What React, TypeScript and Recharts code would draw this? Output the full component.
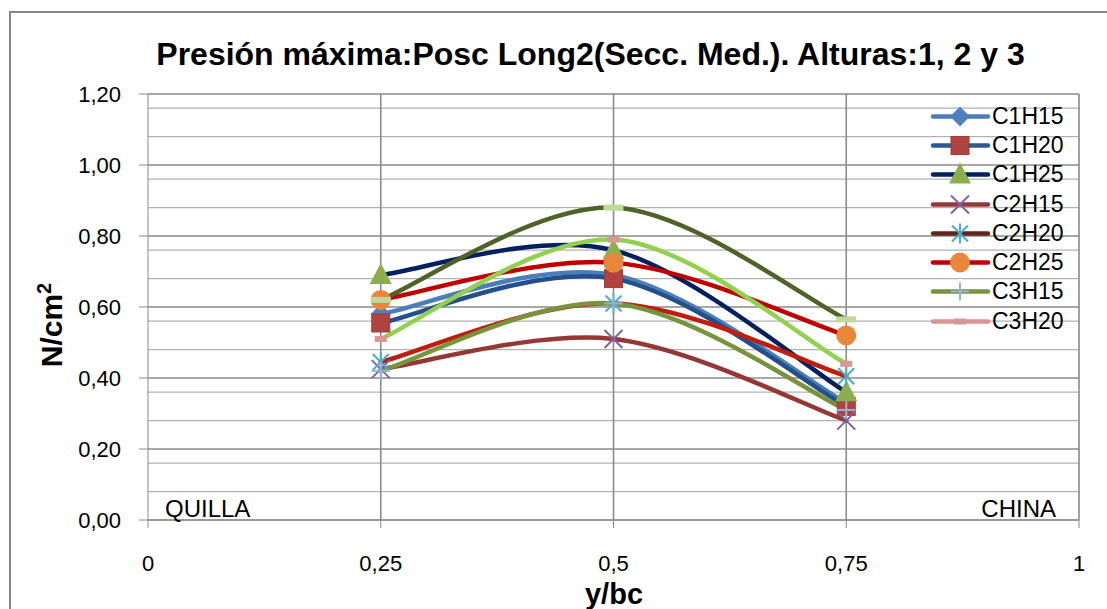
import React from 'react';
import { LineChart, Line, XAxis, YAxis, CartesianGrid, Legend, ReferenceDot } from 'recharts';

// y/bc positions where pressure was measured
const positions = [0.25, 0.5, 0.75];

// maximum pressure (N/cm2) per series
const c1h15 = [0.58, 0.69, 0.33];
const c1h20 = [0.555, 0.68, 0.32];
const c1h25 = [0.69, 0.76, 0.36];
const c2h15 = [0.425, 0.51, 0.28];
const c2h20 = [0.445, 0.61, 0.405];
const c2h25 = [0.62, 0.725, 0.52];
const c3h15 = [0.42, 0.61, 0.31];
const c3h20 = [0.51, 0.79, 0.44];
const c3h25 = [0.62, 0.88, 0.565];

const xTicks = [0, 0.25, 0.5, 0.75, 1];
const yTicks = [0, 0.2, 0.4, 0.6, 0.8, 1.0, 1.2];
const yMinor = [
  0.04, 0.08, 0.12, 0.16, 0.24, 0.28, 0.32, 0.36, 0.44, 0.48, 0.52, 0.56,
  0.64, 0.68, 0.72, 0.76, 0.84, 0.88, 0.92, 0.96, 1.04, 1.08, 1.12, 1.16,
];

const title = 'Presión máxima:Posc Long2(Secc. Med.). Alturas:1, 2 y 3';

type Shape = 'diamond' | 'square' | 'triangle' | 'x' | 'star' | 'circle' | 'plus' | 'dash' | 'wideDash';

interface SeriesDef {
  key: string;
  name: string;
  values: number[];
  stroke: string;
  legendStroke: string;
  shape: Shape;
  markerColor: string;
  inLegend: boolean;
}

const series: SeriesDef[] = [
  { key: 'c1h15', name: 'C1H15', values: c1h15, stroke: '#4A7EBB', legendStroke: '#4A7EBB', shape: 'diamond', markerColor: '#4F81BD', inLegend: true },
  { key: 'c1h20', name: 'C1H20', values: c1h20, stroke: '#254F8A', legendStroke: '#2A5A96', shape: 'square', markerColor: '#B0433F', inLegend: true },
  { key: 'c1h25', name: 'C1H25', values: c1h25, stroke: '#002060', legendStroke: '#002060', shape: 'triangle', markerColor: '#8EAE4E', inLegend: true },
  { key: 'c2h15', name: 'C2H15', values: c2h15, stroke: '#953735', legendStroke: '#953735', shape: 'x', markerColor: '#7B62A0', inLegend: true },
  { key: 'c2h20', name: 'C2H20', values: c2h20, stroke: '#BF1E0E', legendStroke: '#632523', shape: 'star', markerColor: '#4BACC6', inLegend: true },
  { key: 'c2h25', name: 'C2H25', values: c2h25, stroke: '#C00000', legendStroke: '#C00000', shape: 'circle', markerColor: '#E8873A', inLegend: true },
  { key: 'c3h15', name: 'C3H15', values: c3h15, stroke: '#77933C', legendStroke: '#77933C', shape: 'plus', markerColor: '#95B3D7', inLegend: true },
  { key: 'c3h20', name: 'C3H20', values: c3h20, stroke: '#92D050', legendStroke: '#D99694', shape: 'dash', markerColor: '#D99694', inLegend: true },
  { key: 'c3h25', name: 'C3H25', values: c3h25, stroke: '#4F6228', legendStroke: '#4F6228', shape: 'wideDash', markerColor: '#C3D69B', inLegend: false },
];

const data = positions.map((x, i) => {
  const row: Record<string, number> = { x };
  series.forEach((s) => { row[s.key] = s.values[i]; });
  return row;
});

// Excel-like smoothed line (Catmull-Rom through the points)
const excelSmooth = (context: any) => {
  let pts: number[][] = [];
  return {
    areaStart() {},
    areaEnd() {},
    lineStart() { pts = []; },
    point(x: number, y: number) { pts.push([+x, +y]); },
    lineEnd() {
      if (!pts.length) return;
      context.moveTo(pts[0][0], pts[0][1]);
      for (let i = 0; i < pts.length - 1; i++) {
        const p0 = pts[i - 1] || pts[i];
        const p1 = pts[i];
        const p2 = pts[i + 1];
        const p3 = pts[i + 2] || p2;
        context.bezierCurveTo(
          p1[0] + (p2[0] - p0[0]) / 6, p1[1] + (p2[1] - p0[1]) / 6,
          p2[0] - (p3[0] - p1[0]) / 6, p2[1] - (p3[1] - p1[1]) / 6,
          p2[0], p2[1]
        );
      }
    },
  };
};

function Marker({ shape, color, cx, cy }: { shape: Shape; color: string; cx: number; cy: number }) {
  switch (shape) {
    case 'diamond':
      return <path d={`M${cx},${cy - 10}L${cx + 10},${cy}L${cx},${cy + 10}L${cx - 10},${cy}Z`} fill={color} />;
    case 'square':
      return <rect x={cx - 9} y={cy - 9} width={18} height={18} fill={color} stroke="#A23B38" strokeWidth={1} />;
    case 'triangle':
      return <path d={`M${cx},${cy - 12}L${cx + 11},${cy + 9}L${cx - 11},${cy + 9}Z`} fill={color} />;
    case 'x':
      return (
        <g stroke={color} strokeWidth={2}>
          <line x1={cx - 9} y1={cy - 9} x2={cx + 9} y2={cy + 9} />
          <line x1={cx - 9} y1={cy + 9} x2={cx + 9} y2={cy - 9} />
        </g>
      );
    case 'star':
      return (
        <g stroke={color} strokeWidth={2}>
          <line x1={cx - 8} y1={cy - 8} x2={cx + 8} y2={cy + 8} />
          <line x1={cx - 8} y1={cy + 8} x2={cx + 8} y2={cy - 8} />
          <line x1={cx} y1={cy - 10} x2={cx} y2={cy + 10} />
        </g>
      );
    case 'circle':
      return <circle cx={cx} cy={cy} r={10} fill={color} />;
    case 'plus':
      return (
        <g stroke={color} strokeWidth={2}>
          <line x1={cx - 9} y1={cy} x2={cx + 9} y2={cy} />
          <line x1={cx} y1={cy - 9} x2={cx} y2={cy + 9} />
        </g>
      );
    case 'dash':
      return <rect x={cx - 6} y={cy - 3} width={12} height={6} fill={color} />;
    case 'wideDash':
      return <rect x={cx - 10} y={cy - 3} width={20} height={6} fill={color} />;
  }
  return null;
}

const makeDot = (s: SeriesDef) => (props: any) => {
  const { cx, cy, index } = props;
  return <Marker key={`${s.key}-${index}`} shape={s.shape} color={s.markerColor} cx={cx} cy={cy} />;
};

const fmtY = (v: number) => v.toFixed(2).replace('.', ',');
const fmtX = (v: number) => String(v).replace('.', ',');

const font = '"Liberation Sans", Arial, sans-serif';

function LegendBox() {
  return (
    <div style={{ fontFamily: font, fontSize: 23, color: '#000' }}>
      {series.filter((s) => s.inLegend).map((s) => (
        <div key={s.key} style={{ display: 'flex', alignItems: 'center', height: 29.3 }}>
          <svg width={62} height={29} style={{ display: 'block' }}>
            <line x1={3} y1={14.5} x2={58} y2={14.5} stroke={s.legendStroke} strokeWidth={4.5} strokeLinecap="round" />
            <Marker shape={s.shape} color={s.markerColor} cx={30} cy={14.5} />
          </svg>
          <span style={{ lineHeight: '29px' }}>{s.name}</span>
        </div>
      ))}
    </div>
  );
}

export default function App() {
  return (
    <div style={{ position: 'absolute', left: 0, top: 0, width: 1107, height: 609, overflow: 'hidden', background: '#fff' }}>
      <div style={{ position: 'absolute', left: 9, top: 11, width: 1300, height: 800, border: '2px solid #878787' }} />
      <div
        style={{
          position: 'absolute', left: 0, top: 35, width: 1181, textAlign: 'center',
          fontFamily: font, fontWeight: 'bold', fontSize: 32, lineHeight: '38px', color: '#000',
        }}
      >
        {title}
      </div>
      <LineChart width={1107} height={609} data={data} margin={{ top: 94, right: 28, bottom: 49, left: 88 }}>
        <CartesianGrid horizontalValues={yMinor} vertical={false} stroke="#B2B2B2" strokeWidth={1.3} />
        <CartesianGrid horizontalValues={yTicks} verticalValues={[0.25, 0.5, 0.75, 1]} stroke="#8A8A8A" strokeWidth={1.6} />
        <XAxis
          type="number"
          dataKey="x"
          domain={[0, 1]}
          ticks={xTicks}
          tickFormatter={fmtX}
          height={40}
          stroke="#8A8A8A"
          tickSize={8}
          tickMargin={27}
          tick={{ fill: '#000', fontSize: 22, fontFamily: font }}
          label={{
            content: () => (
              <text x={614} y={604} textAnchor="middle" fontFamily={font} fontWeight="bold" fontSize={29} fill="#000">
                y/bc
              </text>
            ),
          }}
        />
        <YAxis
          type="number"
          domain={[0, 1.2]}
          ticks={yTicks}
          tickFormatter={fmtY}
          width={60}
          stroke="#8A8A8A"
          tickSize={9}
          tickMargin={18}
          tick={{ fill: '#000', fontSize: 22, fontFamily: font }}
          label={{
            content: () => (
              <text
                x={62}
                y={325}
                transform="rotate(-90 62 325)"
                textAnchor="middle"
                fontFamily={font}
                fontWeight="bold"
                fontSize={30}
                fill="#000"
              >
                N/cm<tspan fontSize={20} dy={-11}>2</tspan>
              </text>
            ),
          }}
        />
        <ReferenceDot
          x={0}
          y={0}
          r={1}
          fill="none"
          stroke="none"
          ifOverflow="visible"
          label={{
            content: (p: any) => (
              <text x={p.viewBox.x + 18} y={p.viewBox.y - 2} fontFamily={font} fontSize={24} fill="#000">
                QUILLA
              </text>
            ),
          }}
        />
        <ReferenceDot
          x={1}
          y={0}
          r={1}
          fill="none"
          stroke="none"
          ifOverflow="visible"
          label={{
            content: (p: any) => (
              <text x={p.viewBox.x - 22} y={p.viewBox.y - 2} textAnchor="end" fontFamily={font} fontSize={24} fill="#000">
                CHINA
              </text>
            ),
          }}
        />
        <Legend
          layout="horizontal"
          verticalAlign="middle"
          align="center"
          content={() => <LegendBox />}
          wrapperStyle={{ position: 'absolute', left: 930, top: 101.5, width: 160 }}
        />
        {series.map((s) => (
          <Line
            key={s.key}
            type={excelSmooth as any}
            dataKey={s.key}
            name={s.name}
            stroke={s.stroke}
            strokeWidth={4.5}
            strokeLinecap="round"
            dot={makeDot(s)}
            activeDot={false}
            isAnimationActive={false}
          />
        ))}
      </LineChart>
    </div>
  );
}
